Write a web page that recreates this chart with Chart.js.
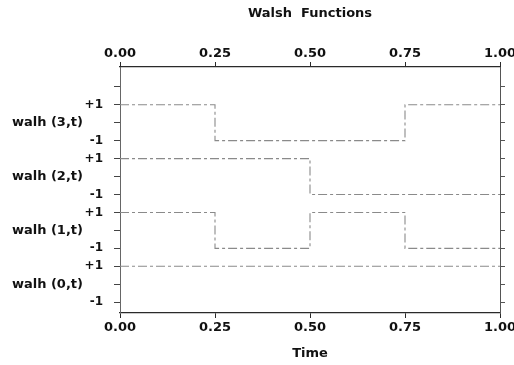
<!DOCTYPE html>
<html>
<head>
<meta charset="utf-8">
<script src="https://cdn.jsdelivr.net/npm/chart.js@4/dist/chart.umd.min.js"></script>
<style>
  html, body { margin: 0; padding: 0; background: #ffffff; }
  #wrap { width: 514px; height: 365px; }
</style>
</head>
<body>
<div id="wrap"><canvas id="c" width="514" height="365"></canvas></div>
<script>
// ---- data ----
const time = [0, 0.25, 0.5, 0.75, 1.0];
const walh0 = [1, 1, 1, 1, 1];
const walh1 = [1, -1, 1, -1, -1];
const walh2 = [1, 1, -1, -1, -1];
const walh3 = [1, -1, -1, 1, 1];
const seriesNames = ['walh (0,t)', 'walh (1,t)', 'walh (2,t)', 'walh (3,t)'];
const xTickValues = [0, 0.25, 0.5, 0.75, 1.0];
const xTickLabels = ['0.00', '0.25', '0.50', '0.75', '1.00'];
const yTickValues = [-1, 0, 1, 2, 3, 4, 5, 6, 7, 8, 9, 10, 11];
const yTickLabels = ['-1', '', '+1', '-1', '', '+1', '-1', '', '+1', '-1', '', '+1', ''];
const seriesCenters = [0, 3, 6, 9];

const series = [walh0, walh1, walh2, walh3];
const FONT = "'DejaVu Sans', 'Liberation Sans', sans-serif";
const lineColor = '#8a8a8a';
const axisColor = '#2a2a2a';

const datasets = series.map((vals, i) => ({
  label: seriesNames[i],
  data: time.map((t, k) => ({ x: t, y: vals[k] + seriesCenters[i] })),
  borderColor: lineColor,
  borderWidth: 1.1,
  borderDash: [9, 3, 3, 3],
  pointRadius: 0,
  stepped: 'before',
  fill: false,
  tension: 0
}));

const setTicks = (vals) => (scale) => { scale.ticks = vals.map(v => ({ value: v })); };
const Y_MIN = -1.6, Y_MAX = 12.1;

new Chart(document.getElementById('c'), {
  type: 'line',
  data: { datasets },
  options: {
    responsive: false,
    animation: false,
    events: [],
    layout: { padding: 0 },
    plugins: {
      legend: { display: false },
      tooltip: { enabled: false },
      title: {
        display: true,
        text: 'Walsh  Functions',
        fullSize: false,
        color: '#111',
        font: { family: FONT, size: 13, weight: 'bold' },
        padding: { top: 6, bottom: 4 }
      }
    },
    scales: {
      x: {
        type: 'linear', position: 'bottom', min: 0, max: 1,
        afterBuildTicks: setTicks(xTickValues),
        afterFit: (s) => { s.height = 52; s.paddingLeft = 0; s.paddingRight = 0; },
        grid: { drawOnChartArea: false, drawTicks: true, tickLength: 5, color: axisColor, lineWidth: 1 },
        border: { display: true, color: axisColor, width: 1.3 },
        ticks: {
          color: '#111', padding: 2, maxRotation: 0, autoSkip: false,
          font: { family: FONT, size: 13, weight: 'bold' },
          callback: (v, i) => xTickLabels[i]
        },
        title: {
          display: true, text: 'Time', color: '#111',
          font: { family: FONT, size: 13, weight: 'bold' },
          padding: { top: 4, bottom: 4 }
        }
      },
      xTop: {
        type: 'linear', position: 'top', min: 0, max: 1,
        afterBuildTicks: setTicks(xTickValues),
        afterFit: (s) => { s.height = 41.4; s.paddingLeft = 0; s.paddingRight = 0; },
        grid: { drawOnChartArea: false, drawTicks: true, tickLength: 5, color: axisColor, lineWidth: 1 },
        border: { display: true, color: axisColor, width: 1.3 },
        ticks: {
          color: '#111', padding: 1, maxRotation: 0, autoSkip: false,
          font: { family: FONT, size: 13, weight: 'bold' },
          callback: (v, i) => xTickLabels[i]
        }
      },
      y: {
        type: 'linear', position: 'left', min: Y_MIN, max: Y_MAX,
        afterBuildTicks: setTicks(yTickValues),
        afterFit: (s) => { s.width = 36; s.paddingTop = 0; s.paddingBottom = 0; },
        grid: { drawOnChartArea: false, drawTicks: true, tickLength: 6, color: '#444', lineWidth: 1 },
        border: { display: true, color: '#666', width: 1 },
        ticks: {
          color: '#111', padding: 11, autoSkip: false,
          font: { family: FONT, size: 12, weight: 'bold' },
          callback: (v, i) => yTickLabels[i]
        }
      },
      yNames: {
        type: 'linear', position: 'left', min: Y_MIN, max: Y_MAX,
        afterBuildTicks: setTicks(seriesCenters),
        afterFit: (s) => { s.width = 84; s.paddingTop = 0; s.paddingBottom = 0; },
        grid: { display: false, drawOnChartArea: false, drawTicks: false },
        border: { display: false },
        ticks: {
          color: '#111', padding: 1, autoSkip: false,
          font: { family: FONT, size: 13, weight: 'bold' },
          callback: (v, i) => seriesNames[i]
        }
      },
      yRight: {
        type: 'linear', position: 'right', min: Y_MIN, max: Y_MAX,
        afterBuildTicks: setTicks(yTickValues),
        afterFit: (s) => { s.width = 14; s.paddingTop = 0; s.paddingBottom = 0; },
        grid: { drawOnChartArea: false, drawTicks: true, tickLength: 5, color: '#555', lineWidth: 1 },
        border: { display: true, color: '#555', width: 1 },
        ticks: { display: false }
      }
    }
  }
});
</script>
</body>
</html>
